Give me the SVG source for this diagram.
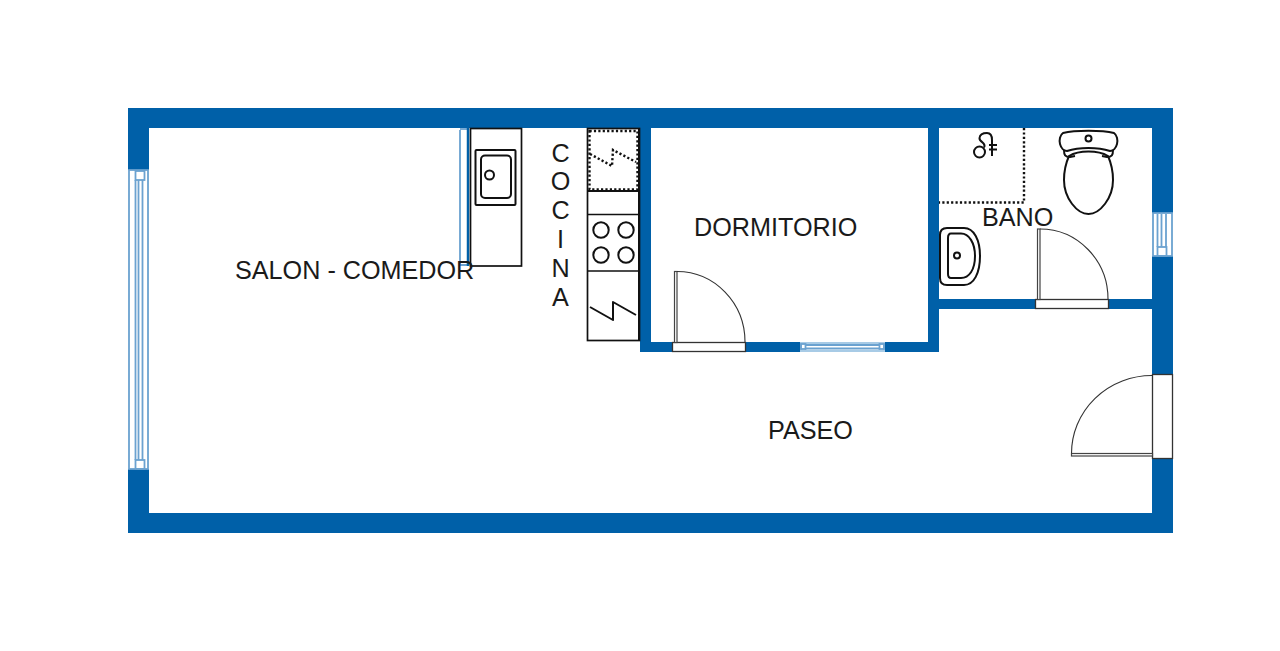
<svg xmlns="http://www.w3.org/2000/svg" width="1280" height="651" viewBox="0 0 1280 651">
<style>
.wall{fill:#0060a8}
.win{fill:#fff}
.wl{fill:none;stroke:#6ba2d0;stroke-width:1.8}
.wb{fill:none;stroke:#a8cbe6;stroke-width:2}
.o{fill:#fff;stroke:#111;stroke-width:1.7}
.t{fill:#fff;stroke:#333;stroke-width:1.3}
.n{fill:none;stroke:#111;stroke-width:2;stroke-linejoin:round}
.arc{fill:none;stroke:#333;stroke-width:1.1}
.leaf{fill:#fff;stroke:#444;stroke-width:1.2}
.d{fill:none;stroke:#111;stroke-width:2.400;stroke-dasharray:2.200 2.200}
text{font-family:"Liberation Sans",Arial,sans-serif;font-size:25.200px;fill:#1a1a1a}
</style>
<rect width="1280" height="651" fill="#fff"/>
<g id="walls">
<path class="wall" fill-rule="evenodd" d="M128 108H1173V533H128ZM149 128V513H1152V128Z"/>
<rect class="wall" x="640" y="128" width="11" height="224"/>
<rect class="wall" x="640" y="342" width="298" height="10"/>
<rect class="wall" x="928" y="128" width="11" height="224"/>
<rect class="wall" x="938" y="299" width="214" height="10"/>
</g>
<g id="window-west">
<rect class="win" x="128" y="170" width="21" height="299"/>
<rect class="wl" x="129" y="170" width="19" height="299"/>
<rect class="wl" x="135.500" y="171" width="9" height="9"/>
<rect class="wl" x="135.500" y="460" width="9" height="9"/>
<path class="wl" d="M135.500 180V460M138.500 180V460M142.500 180V460"/>
</g>
<g id="window-east">
<rect class="win" x="1152" y="213" width="21" height="43"/>
<rect class="wl" x="1153" y="213" width="19" height="43"/>
<rect class="wl" x="1157.500" y="247" width="9" height="9"/>
<path class="wl" d="M1157.500 214V247M1161.500 214V247M1166 214V247"/>
</g>
<g id="window-south">
<rect class="win" x="800" y="342" width="85" height="10"/>
<rect class="wb" x="801" y="343" width="83" height="8"/>
<rect class="wl" x="801" y="344" width="4.500" height="5"/>
<rect class="wl" x="879.500" y="344" width="4.500" height="5"/>
<path class="wl" d="M805 345H880M805 348.500H880"/>
</g>
<g id="door-dormitorio">
<rect class="t" x="672.500" y="342.500" width="73" height="9"/>
<rect class="leaf" x="674.500" y="271.500" width="2.500" height="71"/>
<path class="arc" d="M677 271.500A68 70.500 0 0 1 745 342"/>
</g>
<g id="door-bano">
<rect class="t" x="1035.500" y="299.500" width="73" height="9"/>
<rect class="leaf" x="1037.500" y="229" width="2.500" height="70.500"/>
<path class="arc" d="M1040 229A68 70 0 0 1 1108 299"/>
</g>
<g id="door-entrada">
<rect class="t" x="1152.500" y="374.500" width="20" height="84"/>
<rect class="leaf" x="1071.500" y="453.500" width="81" height="2.500"/>
<path class="arc" d="M1152 375.500A80.500 78 0 0 0 1071.500 453.500"/>
</g>
<g id="encimera">
<path d="M460 130V265H469" fill="none" stroke="#6ba2d0" stroke-width="1.800"/>
<path d="M460 129H469" fill="none" stroke="#6ba2d0" stroke-width="1.800"/>
<path d="M468 128V266" fill="none" stroke="#0060a8" stroke-width="2.500"/>
<rect class="o" x="470.500" y="128.500" width="51" height="137.500"/>
<rect class="n" x="475.500" y="150" width="40" height="55" rx="1"/>
<rect class="n" x="481" y="155.500" width="30" height="42.500" rx="4"/>
<circle class="n" cx="489.500" cy="175" r="4.500"/>
</g>
<g id="cocina-equipo">
<rect class="o" x="587.500" y="128.500" width="52" height="212"/>
<path class="n" d="M587.500 191H639.500M639 128.500V340"/>
<path class="o" d="M587.500 214.500H639.500M587.500 271H639.500"/>
<rect class="d" x="589.500" y="131" width="48" height="58.500"/>
<path class="d" d="M590 154L612 166L613 150L636 162"/>
<circle class="n" cx="601" cy="230" r="7.700"/>
<circle class="n" cx="626" cy="230" r="7.700"/>
<circle class="n" cx="601" cy="255" r="7.700"/>
<circle class="n" cx="626" cy="255" r="7.700"/>
<path class="n" d="M590 307L613 320L613 302L636 315"/>
</g>
<g id="ducha">
<path class="d" d="M1024 128V202.500H939"/>
<circle class="n" cx="979.500" cy="152" r="5.500"/>
<path class="n" d="M984 147.500C987 143 979 142 979.500 138C980 134 984 133 987 133C991 133 992 136 992 140V156M989 145H997M989 149.500H997"/>
</g>
<g id="inodoro">
<path class="n" d="M1063 133C1075 130 1102 130 1114 133C1117 135 1118 140 1117 144C1116 148 1113 151 1110 151C1098 147 1079 147 1067 151C1064 151 1061 148 1060 144C1059 140 1060 135 1063 133Z"/>
<circle class="n" cx="1088.500" cy="138.500" r="3"/>
<path class="n" d="M1064 150C1064 155 1065 157 1070 157L1075 156M1113 150C1113 155 1112 157 1107 157L1102 156"/>
<path class="n" d="M1069 156C1065 165 1064 172 1064 180C1064 198 1077 214 1088.500 214C1100 214 1113 198 1113 180C1113 172 1112 165 1108 156C1098 150 1079 150 1069 156Z"/>
</g>
<g id="lavabo">
<path class="n" d="M947 228H964C974 228 980 240 980 256C980 273 974 285 964 285H947C942 285 940 282 940 278V235C940 231 942 228 947 228Z"/>
<path class="n" d="M951 233.500H961C969 233.500 975 243 975 256C975 270 969 278 961 278H951C949 278 948 276 948 274V238C948 235 949 233.500 951 233.500Z"/>
<circle class="n" cx="957" cy="255.500" r="3"/>
</g>
<g id="labels">
<text x="235" y="279">SALON - COMEDOR</text>
<text x="694" y="236">DORMITORIO</text>
<text x="982" y="226">BANO</text>
<text x="768" y="439">PASEO</text>
<text x="560.500" y="162" text-anchor="middle">C</text>
<text x="560.500" y="190" text-anchor="middle">O</text>
<text x="560.500" y="219" text-anchor="middle">C</text>
<text x="560.500" y="248" text-anchor="middle">I</text>
<text x="560.500" y="277" text-anchor="middle">N</text>
<text x="560.500" y="306" text-anchor="middle">A</text>
</g>
</svg>
